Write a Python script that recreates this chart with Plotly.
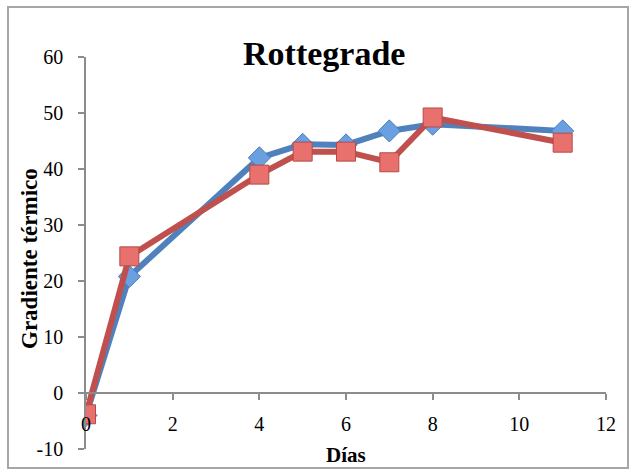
import plotly.graph_objects as go

# Days of measurement
dias = [0, 1, 4, 5, 6, 7, 8, 11]
# Thermal gradient, two series
serie_azul = [-4.0, 20.8, 42.0, 44.4, 44.3, 46.8, 48.0, 46.8]
serie_roja = [-3.8, 24.4, 39.0, 43.1, 43.1, 41.2, 49.2, 44.7]

x_ticks = [0, 2, 4, 6, 8, 10, 12]
y_ticks = [-10, 0, 10, 20, 30, 40, 50, 60]
y_tick_text = ["-10", "0", "10", "20", "30", "40", "50", "60"]

FONT = "Liberation Serif"
AXIS_GREY = "#8c8c8c"

fig = go.Figure()

fig.add_trace(go.Scatter(
    x=dias, y=serie_azul, mode="lines+markers",
    line=dict(color="#4F81BD", width=6),
    marker=dict(symbol="diamond", size=17, color="#6A9FE0",
                line=dict(color="#4A7EBB", width=1)),
    showlegend=False,
))
fig.add_trace(go.Scatter(
    x=dias, y=serie_roja, mode="lines+markers",
    line=dict(color="#C0504D", width=6),
    marker=dict(symbol="square", size=19, color="#E8716E",
                line=dict(color="#B64A47", width=1)),
    showlegend=False,
))

fig.update_layout(
    width=631, height=472,
    margin=dict(l=86, r=25, t=57, b=23),
    paper_bgcolor="white", plot_bgcolor="white",
    font=dict(family=FONT, color="black", size=20),
    xaxis=dict(
        range=[0, 12], tickvals=x_ticks, showgrid=False, zeroline=False,
        showline=True, linecolor=AXIS_GREY, linewidth=1.5,
        ticks="outside", ticklen=6, tickcolor=AXIS_GREY, tickwidth=1.5,
        anchor="free", position=10 / 70, layer="above traces",
        ticklabelstandoff=7,
        tickfont=dict(family=FONT, size=20),
    ),
    yaxis=dict(
        range=[-10, 60], tickvals=y_ticks, ticktext=y_tick_text,
        showgrid=False, zeroline=False,
        showline=True, linecolor=AXIS_GREY, linewidth=1.5,
        ticks="outside", ticklen=6, tickcolor=AXIS_GREY, tickwidth=1.5,
        ticklabelstandoff=11,
        tickfont=dict(family=FONT, size=20),
    ),
    shapes=[dict(type="rect", xref="paper", yref="paper",
                 x0=-78 / 520, x1=1 + 22 / 520,
                 y0=-19 / 392, y1=1 + 50 / 392,
                 line=dict(color="#a6a6a6", width=2))],
    annotations=[
        dict(text="<b>Rottegrade</b>", xref="paper", yref="paper",
             x=(324 - 86) / 520, y=1 + 4 / 392, xanchor="center", yanchor="middle",
             showarrow=False, font=dict(family=FONT, size=34)),
        dict(text="<b>Días</b>", xref="paper", yref="paper",
             x=(346 - 86) / 520, y=-6 / 392, xanchor="center", yanchor="middle",
             showarrow=False, font=dict(family=FONT, size=21)),
        dict(text="<b>Gradiente térmico</b>", xref="paper", yref="paper",
             x=(29 - 86) / 520, y=(449 - 259) / 392, xanchor="center", yanchor="middle",
             textangle=-90, showarrow=False, font=dict(family=FONT, size=23)),
    ],
)

fig.write_html("out.html")
